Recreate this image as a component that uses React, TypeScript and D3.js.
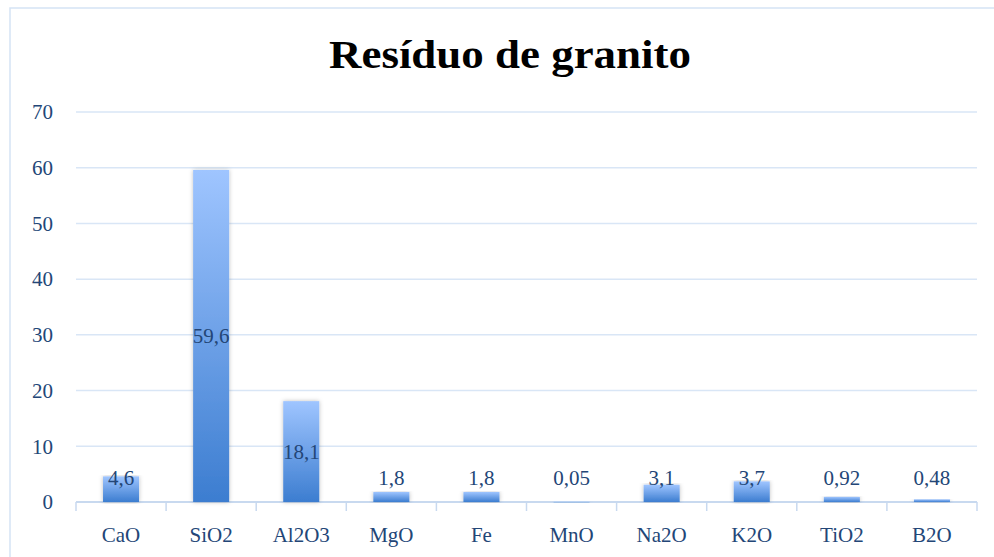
import React from 'react';
import * as d3 from 'd3';

const categories = ['CaO', 'SiO2', 'Al2O3', 'MgO', 'Fe', 'MnO', 'Na2O', 'K2O', 'TiO2', 'B2O'];
const values = [4.6, 59.6, 18.1, 1.8, 1.8, 0.05, 3.1, 3.7, 0.92, 0.48];
const labels = ['4,6', '59,6', '18,1', '1,8', '1,8', '0,05', '3,1', '3,7', '0,92', '0,48'];
const yTicks = [0, 10, 20, 30, 40, 50, 60, 70];

const W = 994;
const H = 557;
const margin = { top: 112, right: 17, bottom: 55, left: 76 };
const serif = '"Liberation Serif", "DejaVu Serif", serif';
const textColor = '#234677';

export default function App() {
  const x = d3.scaleBand<string>()
    .domain(categories)
    .range([margin.left, W - margin.right])
    .paddingInner(0.6)
    .paddingOuter(0.3);

  const y = d3.scaleLinear()
    .domain([0, 70])
    .range([H - margin.bottom, margin.top]);

  const step = x.step();
  const x0 = margin.left;

  return (
    <svg width={W} height={H} style={{ position: 'absolute', left: 0, top: 0 }}>
      <defs>
        <linearGradient id="barGrad" x1="0" y1="0" x2="0" y2="1">
          <stop offset="0%" stopColor="#9fc5ff" />
          <stop offset="100%" stopColor="#3c7dd0" />
        </linearGradient>
        <filter id="shadow" x="-20%" y="-5%" width="140%" height="110%">
          <feDropShadow dx="0" dy="0" stdDeviation="2" floodColor="#000" floodOpacity="0.25" />
        </filter>
      </defs>
      <rect x={0} y={0} width={W} height={H} fill="#fff" />
      <rect x={10} y={8} width={W + 10} height={H + 10} fill="none" stroke="#d5e3f5" strokeWidth={1.5} />

      <text x={510} y={68} textAnchor="middle" fontFamily={serif} fontWeight="bold"
        fontSize={40} textLength={362} lengthAdjust="spacingAndGlyphs" fill="#000">
        Resíduo de granito
      </text>

      {yTicks.map(t => (
        <g key={t}>
          <line x1={x0} x2={W - margin.right} y1={y(t)} y2={y(t)}
            stroke={t === 0 ? '#c8d9ef' : '#d9e6f6'} strokeWidth={t === 0 ? 2 : 1.5} />
          <text x={53} y={y(t)} dy="0.35em" textAnchor="end" fontFamily={serif}
            fontSize={21} fill={textColor}>{t}</text>
        </g>
      ))}

      {d3.range(categories.length + 1).map(i => (
        <line key={i} x1={x0 + i * step} x2={x0 + i * step} y1={y(0)} y2={y(0) + 9}
          stroke="#c8d9ef" strokeWidth={1.5} />
      ))}

      {categories.map((c, i) => {
        const v = values[i];
        const bx = x(c) || 0;
        const cx = bx + x.bandwidth() / 2;
        const top = y(v);
        const ly = v > 10 ? (top + y(0)) / 2 : y(0) - 24;
        return (
          <g key={c}>
            <rect x={bx} y={top} width={x.bandwidth()} height={Math.max(0.5, y(0) - top)}
              fill="url(#barGrad)" filter="url(#shadow)" />
            <text x={cx} y={ly} dy="0.35em" textAnchor="middle" fontFamily={serif}
              fontSize={21} fill={textColor}>{labels[i]}</text>
            <text x={cx} y={535} dy="0.35em" textAnchor="middle" fontFamily={serif}
              fontSize={21} fill={textColor}>{c}</text>
          </g>
        );
      })}
    </svg>
  );
}
